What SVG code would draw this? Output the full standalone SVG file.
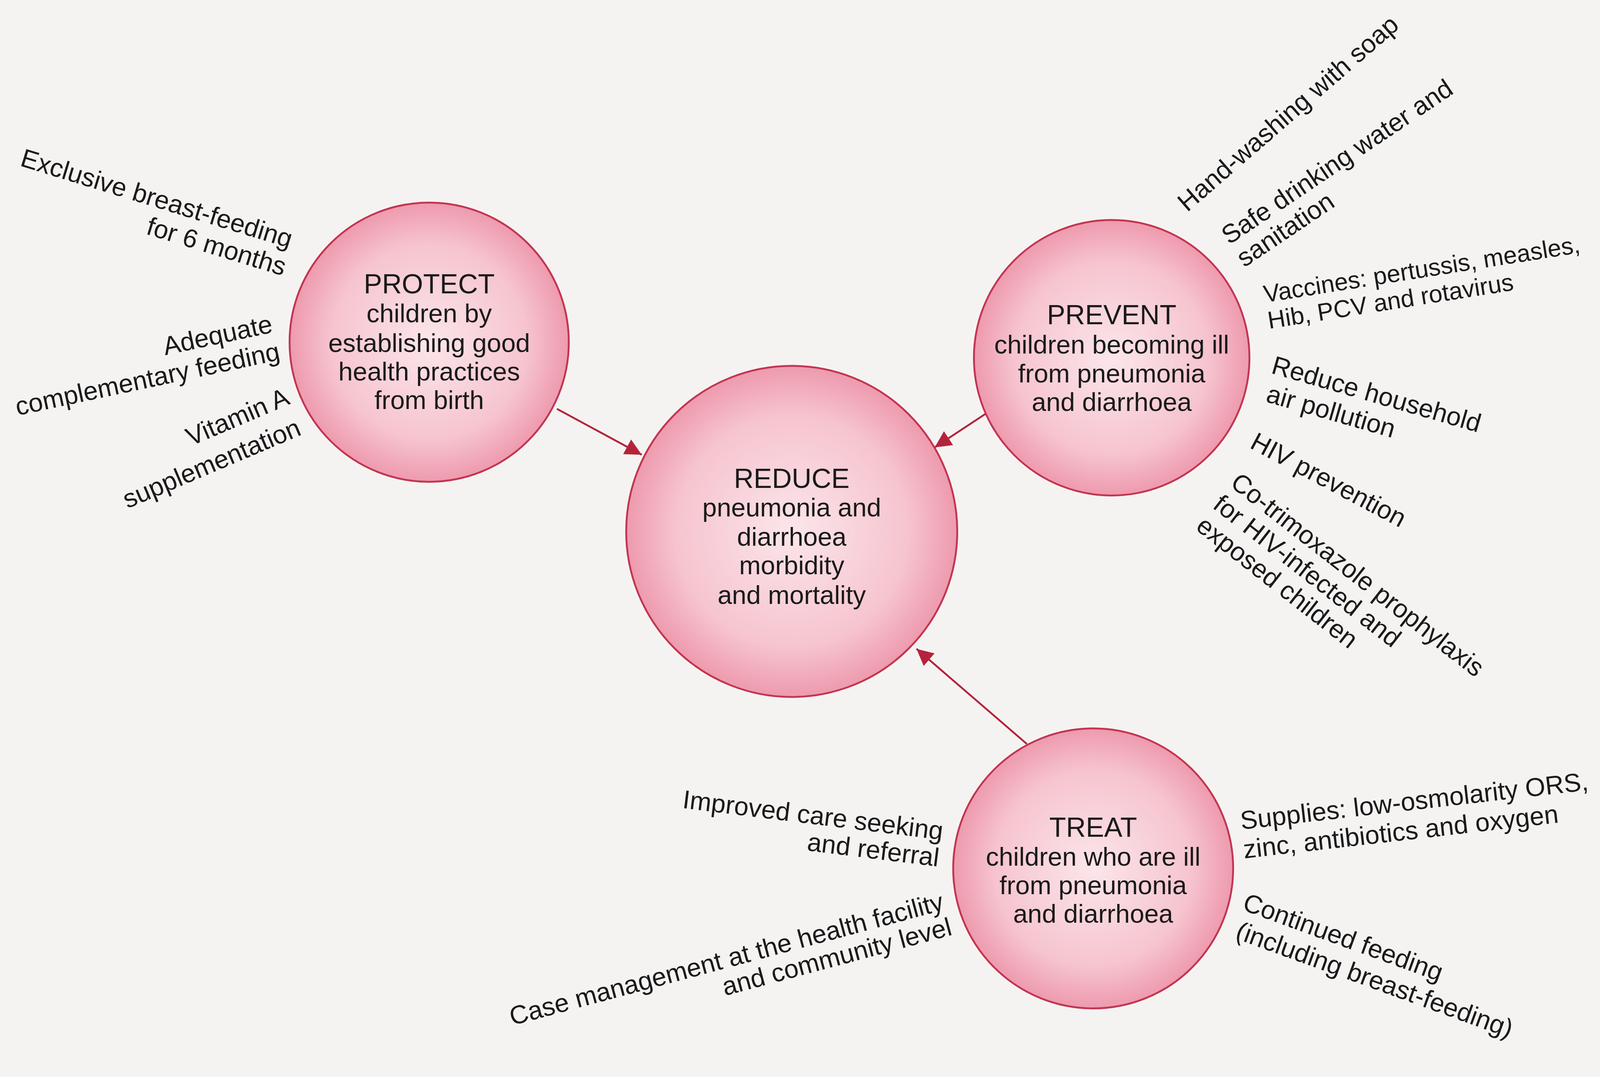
<svg xmlns="http://www.w3.org/2000/svg" width="4326" height="2757" viewBox="0 0 4326 2757">
<defs>
<radialGradient id="pk" cx="50%" cy="50%" r="50%">
<stop offset="0" stop-color="#fbe6ea"/><stop offset="0.7" stop-color="#f6c4cf"/><stop offset="1" stop-color="#ee9aae"/>
</radialGradient>
<marker id="a2" viewBox="0 0 10 10" refX="10" refY="5" markerWidth="45" markerHeight="45" orient="auto" markerUnits="userSpaceOnUse">
<path d="M0,0 L10,5 L0,10 z" fill="#b3243c"/>
</marker>
</defs>
<style>
.c{fill:url(#pk);stroke:#c33550;stroke-width:5}
.t{font-family:"Liberation Sans",Arial,sans-serif;font-size:70px;fill:#1a1a1a;text-anchor:middle}
.h{font-size:74px}
.l{font-family:"Liberation Sans",Arial,sans-serif;font-size:70px;fill:#1a1a1a}
.e{text-anchor:end}
.s{font-size:66px}
.k{stroke:#b3243c;stroke-width:5;fill:none}
</style>
<rect width="4326" height="2757" fill="#f5f3f2"/>
<g transform="scale(0.948)">
<g id="connectors">
<line class="k" x1="1504" y1="1104" x2="1733" y2="1228" marker-end="url(#a2)"/>
<line class="k" x1="2662" y1="1117" x2="2524" y2="1208" marker-end="url(#a2)"/>
<line class="k" x1="2773" y1="2009" x2="2475" y2="1752" marker-end="url(#a2)"/>
</g>
<g id="protect">
<circle class="c" cx="1159" cy="924" r="377"/>
<text class="t h" x="1159" y="792">PROTECT</text>
<text class="t" x="1159" y="870">children by</text>
<text class="t" x="1159" y="950">establishing good</text>
<text class="t" x="1159" y="1027">health practices</text>
<text class="t" x="1159" y="1104">from birth</text>
</g>
<g id="reduce">
<circle class="c" cx="2138" cy="1435" r="447"/>
<text class="t h" x="2138" y="1317">REDUCE</text>
<text class="t" x="2138" y="1394">pneumonia and</text>
<text class="t" x="2138" y="1474">diarrhoea</text>
<text class="t" x="2138" y="1551">morbidity</text>
<text class="t" x="2138" y="1631">and mortality</text>
</g>
<g id="prevent">
<circle class="c" cx="3002" cy="966" r="372"/>
<text class="t h" x="3002" y="875">PREVENT</text>
<text class="t" x="3002" y="955">children becoming ill</text>
<text class="t" x="3002" y="1033">from pneumonia</text>
<text class="t" x="3002" y="1110">and diarrhoea</text>
</g>
<g id="treat">
<circle class="c" cx="2952" cy="2345" r="378"/>
<text class="t h" x="2952" y="2260">TREAT</text>
<text class="t" x="2952" y="2338">children who are ill</text>
<text class="t" x="2952" y="2415">from pneumonia</text>
<text class="t" x="2952" y="2492">and diarrhoea</text>
</g>
<g id="protect-labels">
<text class="l e" transform="translate(781,670) rotate(17)">Exclusive breast-feeding</text>
<text class="l e" transform="translate(764,745) rotate(17)">for 6 months</text>
<text class="l e" transform="translate(739,897) rotate(-12)">Adequate</text>
<text class="l e" transform="translate(759,971) rotate(-12)">complementary feeding</text>
<text class="l e" transform="translate(786,1090) rotate(-23)">Vitamin A</text>
<text class="l e" transform="translate(817,1173) rotate(-23)">supplementation</text>
</g>
<g id="prevent-labels">
<text class="l" transform="translate(3206,574) rotate(-41)">Hand-washing with soap</text>
<text class="l" transform="translate(3319,662) rotate(-34)">Safe drinking water and</text>
<text class="l" transform="translate(3360,723) rotate(-34)">sanitation</text>
<text class="l s" transform="translate(3416,817) rotate(-9)">Vaccines: pertussis, measles,</text>
<text class="l s" transform="translate(3427,888) rotate(-9)">Hib, PCV and rotavirus</text>
<text class="l" transform="translate(3430,1007) rotate(16)">Reduce household</text>
<text class="l" transform="translate(3416,1084) rotate(16)">air pollution</text>
<text class="l" transform="translate(3372,1208) rotate(28)">HIV prevention</text>
<text class="l" transform="translate(3319,1311) rotate(38)">Co-trimoxazole prophylaxis</text>
<text class="l" transform="translate(3272,1370) rotate(38)">for HIV-infected and</text>
<text class="l" transform="translate(3226,1428) rotate(38)">exposed children</text>
</g>
<g id="treat-labels">
<text class="l e" transform="translate(2544,2268) rotate(7)">Improved care seeking</text>
<text class="l e" transform="translate(2533,2340) rotate(7)">and referral</text>
<text class="l e" transform="translate(2552,2456) rotate(-15)">Case management at the health facility</text>
<text class="l e" transform="translate(2574,2524) rotate(-15)">and community level</text>
<text class="l" transform="translate(3352,2240) rotate(-6.5)">Supplies: low-osmolarity ORS,</text>
<text class="l" transform="translate(3360,2318) rotate(-6.5)">zinc, antibiotics and oxygen</text>
<text class="l" transform="translate(3352,2456) rotate(20)">Continued feeding</text>
<text class="l" transform="translate(3333,2533) rotate(20)">(including breast-feeding)</text>
</g>
</g>
</svg>
